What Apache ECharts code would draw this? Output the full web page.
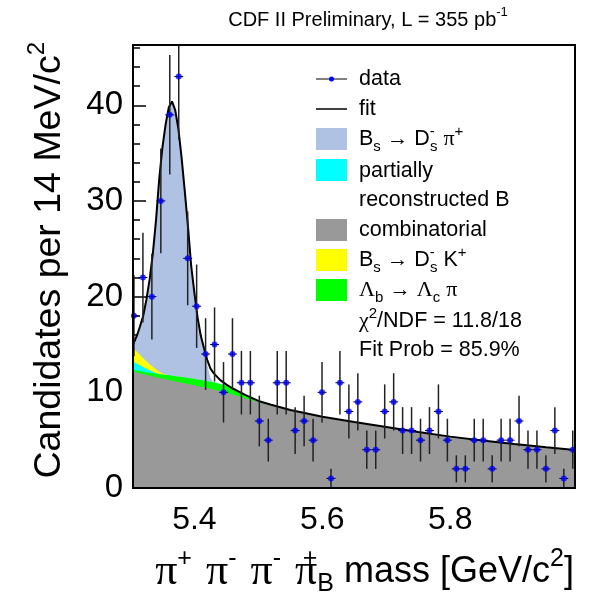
<!DOCTYPE html>
<html>
<head>
<meta charset="utf-8">
<script src="https://cdn.jsdelivr.net/npm/echarts@6/dist/echarts.min.js"></script>
<style>html,body{margin:0;padding:0;background:#fff}#c{width:592px;height:597px}</style>
</head>
<body>
<div id="c"></div>
<script>
// ---- data ----
const binMass = [5.3055,5.3195,5.3335,5.3475,5.3615,5.3755,5.3895,5.4035,5.4175,5.4315,
  5.4455,5.4595,5.4735,5.4875,5.5015,5.5155,5.5295,5.5435,5.5575,5.5715,
  5.5855,5.5995,5.6135,5.6275,5.6415,5.6555,5.6695,5.6835,5.6975,5.7115,
  5.7255,5.7395,5.7535,5.7675,5.7815,5.7955,5.8095,5.8235,5.8375,5.8515,
  5.8655,5.8795,5.8935,5.9075,5.9215,5.9355,5.9495,5.9635,5.9775,5.9915];
const counts = [18,22,20,30,39,43,24,19,14,15,
  10,14,11,11,7,5,11,11,6,7,
  5,10,1,11,8,9,4,4,8,9,
  6,6,5,6,8,5,2,2,5,5,
  2,5,5,7,4,4,2,6,1,4];
const halfBin = 0.007;

const curveMass = [5.304,5.310,5.315,5.320,5.325,5.330,5.335,5.340,5.345,5.350,5.355,5.360,
  5.365,5.370,5.375,5.380,5.385,5.390,5.395,5.400,5.405,5.410,5.415,5.420,5.425,5.430,
  5.440,5.450,5.460,5.480,5.500,5.520,5.550,
  5.600,5.650,5.700,5.750,5.800,5.850,5.900,5.950,5.995];
const combinatorial = [12.17,12.07,11.99,11.90,11.82,11.74,11.66,11.58,11.50,11.43,11.36,11.29,
  11.22,11.15,11.08,11.01,10.94,10.87,10.80,10.73,10.66,10.59,10.52,10.45,10.38,10.30,
  10.13,9.95,9.76,9.36,8.95,8.60,8.12,
  7.45,6.90,6.38,5.85,5.37,4.96,4.60,4.26,3.97];
const lambdaB = [0.20,0.22,0.24,0.26,0.28,0.30,0.33,0.36,0.40,0.43,0.46,0.49,
  0.52,0.54,0.56,0.58,0.60,0.62,0.64,0.66,0.68,0.70,0.71,0.72,0.73,0.74,
  0.75,0.70,0.60,0.30,0,0,0,
  0,0,0,0,0,0,0,0,0];
const partialB = [0.85,0.72,0.60,0.48,0.37,0.27,0.18,0.09,0.02,0,0,0,
  0,0,0,0,0,0,0,0,0,0,0,0,0,0,
  0,0,0,0,0,0,0,
  0,0,0,0,0,0,0,0,0];
const bsDsK = [1.40,1.22,1.07,0.92,0.77,0.63,0.50,0.37,0.25,0.14,0.05,0,
  0,0,0,0,0,0,0,0,0,0,0,0,0,0,
  0,0,0,0,0,0,0,
  0,0,0,0,0,0,0,0,0];
const bsDsPi = [0.38,1.67,3.00,4.44,6.46,8.86,11.83,15.60,20.13,23.60,26.13,28.02,
  28.66,27.81,25.86,22.91,19.46,15.81,11.76,9.01,6.46,4.61,3.37,1.80,0.40,0,
  0,0,0,0,0,0,0,
  0,0,0,0,0,0,0,0,0];
const fitTotal = [15.0,15.9,16.9,18.0,19.7,21.8,24.5,28.0,32.3,35.6,38.0,39.8,
  40.4,39.5,37.5,34.5,31.0,27.3,23.2,20.4,17.8,15.9,14.6,13.4,12.5,12.0,
  11.3,10.8,10.4,9.7,9.1,8.7,8.15,
  7.45,6.90,6.38,5.85,5.37,4.96,4.60,4.26,3.97];

const xMajorTicks = [5.4, 5.6, 5.8];
const xMinorTicks = [5.35, 5.45, 5.5, 5.55, 5.65, 5.7, 5.75, 5.85, 5.9, 5.95];
const yMajorTicks = [0, 10, 20, 30, 40];
const yMinorTicks = [2,4,6,8,12,14,16,18,22,24,26,28,32,34,36,38,42,44,46];

// ---- build ----
const FONT = '"Liberation Sans", Arial, Helvetica, sans-serif';
const SERIF = '"Liberation Serif", "Times New Roman", serif';
const X_MIN = 5.304, X_MAX = 5.995, Y_MIN = 0, Y_MAX = 46.3;

const c1 = combinatorial.slice();
const c2 = c1.map((v, i) => v + lambdaB[i]);
const c3 = c2.map((v, i) => v + partialB[i]);
const c4 = c3.map((v, i) => v + bsDsK[i]);
const c5 = c4.map((v, i) => v + bsDsPi[i]);
const pairs = arr => curveMass.map((m, i) => [m, arr[i]]);

const COL = { sig: '#afc2e3', cyan: '#00ffff', gray: '#999999', yellow: '#ffff00', green: '#00ff00' };

function area(name, arr, color, z) {
  return { type: 'line', name, data: pairs(arr), symbol: 'none', showSymbol: false, smooth: false,
    lineStyle: { width: 0, opacity: 0 }, areaStyle: { color, opacity: 1, origin: 'start' }, z, silent: true };
}

const tickLine = { color: '#000', width: 1.5 };
const chart = echarts.init(document.getElementById('c'), null, { renderer: 'canvas' });

const legText = (x, y, text) => ({
  type: 'text', x, y, z: 60,
  style: {
    text, fill: '#000', fontSize: 21.5, fontFamily: FONT, align: 'left', verticalAlign: 'middle', lineHeight: 30,
    rich: {
      sub: { fontSize: 15, lineHeight: 15, verticalAlign: 'bottom', fontFamily: FONT },
      sup: { fontSize: 15, lineHeight: 18, verticalAlign: 'top', fontFamily: FONT },
      supz: { fontSize: 15, lineHeight: 18, verticalAlign: 'top', fontFamily: FONT, width: 0.1 },
      gr: { fontSize: 22, lineHeight: 30, fontFamily: SERIF }
    }
  }
});
const legBox = (y, color) => ({ type: 'rect', z: 60, shape: { x: 316, y, width: 31, height: 22 }, style: { fill: color } });

const option = {
  animation: false,
  backgroundColor: '#fff',
  grid: { left: 133, right: 17, top: 45, bottom: 109, show: false },
  xAxis: [
    { type: 'value', min: X_MIN, max: X_MAX, position: 'bottom', axisLine: { show: false }, splitLine: { show: false },
      axisTick: { show: true, inside: true, length: 13, lineStyle: tickLine, customValues: xMajorTicks },
      axisLabel: { show: true, margin: 16, fontSize: 32, color: '#000', fontFamily: FONT, customValues: xMajorTicks,
        formatter: v => Number(v).toFixed(1) } },
    { type: 'value', min: X_MIN, max: X_MAX, position: 'bottom', axisLine: { show: false }, splitLine: { show: false },
      axisTick: { show: true, inside: true, length: 7, lineStyle: tickLine, customValues: xMinorTicks },
      axisLabel: { show: false } }
  ],
  yAxis: [
    { type: 'value', min: Y_MIN, max: Y_MAX, position: 'left', axisLine: { show: false }, splitLine: { show: false },
      axisTick: { show: true, inside: true, length: 13, lineStyle: tickLine, customValues: yMajorTicks },
      axisLabel: { show: true, margin: 10, fontSize: 33, color: '#000', fontFamily: FONT, customValues: yMajorTicks } },
    { type: 'value', min: Y_MIN, max: Y_MAX, position: 'left', axisLine: { show: false }, splitLine: { show: false },
      axisTick: { show: true, inside: true, length: 7, lineStyle: tickLine, customValues: yMinorTicks },
      axisLabel: { show: false } }
  ],
  series: [
    area('Bs→Dsπ', c5, COL.sig, 1),
    area('Bs→DsK', c4, COL.yellow, 2),
    area('partially reconstructed B', c3, COL.cyan, 3),
    area('Λb→Λcπ', c2, COL.green, 4),
    area('combinatorial', c1, COL.gray, 5),
    { type: 'line', name: 'fit', data: pairs(fitTotal), symbol: 'none', showSymbol: false, smooth: false,
      lineStyle: { color: '#000', width: 2 }, z: 6, silent: true },
    { type: 'custom', name: 'errors', clip: true, z: 7, silent: true,
      data: binMass.map((m, i) => [m, counts[i], Math.sqrt(counts[i])]),
      encode: { x: 0, y: 1 },
      renderItem: function (params, api) {
        const x = api.value(0), y = api.value(1), e = api.value(2);
        const t = api.coord([x, y + e]), b = api.coord([x, y - e]);
        const l = api.coord([x - halfBin, y]), r = api.coord([x + halfBin, y]);
        return { type: 'group', children: [
          { type: 'line', shape: { x1: t[0], y1: t[1], x2: b[0], y2: b[1] }, style: { stroke: '#222', lineWidth: 1.5 } },
          { type: 'line', shape: { x1: l[0], y1: l[1], x2: r[0], y2: r[1] }, style: { stroke: '#000', lineWidth: 1 } }
        ] };
      } },
    { type: 'scatter', name: 'data', data: binMass.map((m, i) => [m, counts[i]]), symbol: 'circle', symbolSize: 6,
      itemStyle: { color: '#0000ff' }, z: 8, silent: true }
  ],
  graphic: [
    { type: 'rect', z: 100, shape: { x: 133, y: 45, width: 442, height: 443 }, style: { fill: 'none', stroke: '#000', lineWidth: 2 } },
    // title
    { type: 'text', x: 368, y: 20, z: 60, style: { text: 'CDF II Preliminary, L = 355 pb{sup|-1}', fill: '#000', fontSize: 20,
      fontFamily: FONT, align: 'center', verticalAlign: 'middle', lineHeight: 28,
      rich: { sup: { fontSize: 13, lineHeight: 16, verticalAlign: 'top', fontFamily: FONT } } } },
    // y title
    { type: 'text', x: 50, y: 42, rotation: Math.PI / 2, z: 60, style: { text: 'Candidates per 14 MeV/c{sup|2}', fill: '#000',
      fontSize: 37.5, fontFamily: FONT, align: 'right', verticalAlign: 'middle', lineHeight: 50,
      rich: { sup: { fontSize: 24, lineHeight: 30, verticalAlign: 'top', fontFamily: FONT } } } },
    // x title
    { type: 'text', x: 574, y: 572, z: 60, style: {
      text: '{gr|π}{sup|+} {gr|π}{sup|-} {gr|π}{sup|-} {gr|π}{supz|+}{sub|B} mass [GeV/c{sup2|2}]', fill: '#000',
      fontSize: 36, fontFamily: FONT, align: 'right', verticalAlign: 'middle', lineHeight: 50,
      rich: {
        sup: { fontSize: 25, lineHeight: 28, verticalAlign: 'top', fontFamily: FONT, padding: [0, 4, 0, 0] },
        sup2: { fontSize: 25, lineHeight: 28, verticalAlign: 'top', fontFamily: FONT },
        supz: { fontSize: 25, lineHeight: 28, verticalAlign: 'top', fontFamily: FONT, width: 0.1 },
        sub: { fontSize: 25, lineHeight: 24, verticalAlign: 'bottom', fontFamily: FONT },
        gr: { fontSize: 44, lineHeight: 50, fontFamily: SERIF }
      } } },
    // legend
    { type: 'line', z: 60, shape: { x1: 316, y1: 79, x2: 347, y2: 79 }, style: { stroke: '#000', lineWidth: 1 } },
    { type: 'circle', z: 61, shape: { cx: 331.5, cy: 79, r: 2.5 }, style: { fill: '#0000ff' } },
    legText(359, 79, 'data'),
    { type: 'line', z: 60, shape: { x1: 316, y1: 109, x2: 347, y2: 109 }, style: { stroke: '#000', lineWidth: 1.5 } },
    legText(359, 109, 'fit'),
    legBox(128, COL.sig),
    legText(359, 139, 'B{sub|s} → D{supz|-}{sub|s} {gr|π}{sup|+}'),
    legBox(159, COL.cyan),
    legText(359, 171, 'partially'),
    legText(359, 200, 'reconstructed B'),
    legBox(219, COL.gray),
    legText(359, 230, 'combinatorial'),
    legBox(249, COL.yellow),
    legText(359, 260, 'B{sub|s} → D{supz|-}{sub|s} K{sup|+}'),
    legBox(279, COL.green),
    legText(359, 290, '{gr|Λ}{sub|b} → {gr|Λ}{sub|c} {gr|π}'),
    legText(359, 321, '{gr|χ}{sup|2}/NDF = 11.8/18'),
    legText(359, 350, 'Fit Prob = 85.9%')
  ]
};
chart.setOption(option);
</script>
</body>
</html>
